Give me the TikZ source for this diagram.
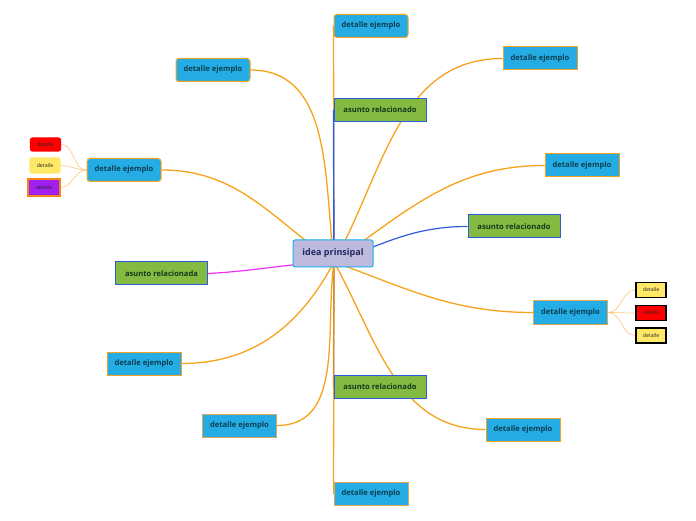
\documentclass[tikz,border=0pt]{standalone}
\usepackage{fontspec}
\setmainfont{Open Sans}
\usetikzlibrary{positioning, calc, backgrounds}
\definecolor{mapcyan}   {RGB}{ 38,172,228}
\definecolor{mapgreen}  {RGB}{132,186, 66}
\definecolor{maplila}   {RGB}{190,186,222}
\definecolor{maporange} {RGB}{247,162, 27}
\definecolor{maptan}    {RGB}{222,168, 80}
\definecolor{mapblue}   {RGB}{ 44, 92,226}
\definecolor{mapmag}    {RGB}{238, 50,238}
\definecolor{mapbrown}  {RGB}{205,140, 62}
\definecolor{mapyellow} {RGB}{255,232,102}
\definecolor{mappurple} {RGB}{160, 32,240}
\definecolor{txtteal}   {RGB}{ 10, 64, 84}
\definecolor{txtgreen}  {RGB}{ 20, 56, 28}
\definecolor{txtnavy}   {RGB}{ 30, 40, 92}

\begin{document}
\begin{tikzpicture}[x=1pt, y=1pt,
  det/.style={rectangle, minimum width=74pt, minimum height=23pt, inner sep=1pt,
    fill=mapcyan, draw=maptan, line width=1pt, text=txtteal,
    font=\fontsize{7.6}{9}\selectfont\bfseries},
  detr/.style={det, rounded corners=3pt, draw=maporange},
  asu/.style={rectangle, minimum width=92pt, minimum height=23pt, inner sep=1pt,
    fill=mapgreen, draw=mapblue, line width=1pt, text=txtgreen,
    font=\fontsize{7.6}{9}\selectfont\bfseries},
  mini/.style={rectangle, minimum width=30pt, minimum height=15pt, inner sep=0.5pt,
    line width=1.2pt, text=black!85, font=\fontsize{5.2}{6}\selectfont},
  lnk/.style={maporange, line width=1.3pt},
  sub/.style={maporange!60, line width=0.6pt},
]
\useasboundingbox (0,0) rectangle (696,520);
%% Hub where branches start
\coordinate (hub) at (334,258);
%% Central idea
\node[rectangle, rounded corners=2pt, minimum width=80pt, minimum height=27pt,
      fill=maplila, draw=mapblue!50!cyan, line width=1pt, text=txtnavy,
      font=\fontsize{9}{10}\selectfont\bfseries] (idea) at (333,266.5) {idea prinsipal};
%% Branch nodes
\node[detr] (D1) at (371,494) {detalle ejemplo};
\node[detr] (D2) at (213,450) {detalle ejemplo};
\node[asu]  (A1) at (380,410) {asunto relacionado};
\node[det, draw=maporange!85!maptan] (D3) at (540,461.5) {detalle ejemplo};
\node[det, draw=maporange] (D4) at (582,354.5) {detalle ejemplo};
\node[asu]  (A2) at (514,293.5) {asunto relacionado};
\node[detr] (D5) at (124,350) {detalle ejemplo};
\node[asu]  (A3) at (161.5,246.5) {asunto relacionada};
\node[det]  (D6) at (570.5,207.5) {detalle ejemplo};
\node[det, draw=maporange] (D7) at (144,156.5) {detalle ejemplo};
\node[asu]  (A4) at (380,133) {asunto relacionado};
\node[det]  (D8) at (239.5,94.5) {detalle ejemplo};
\node[det, draw=maporange] (D9) at (523,90.5) {detalle ejemplo};
\node[det]  (D10) at (371,26) {detalle ejemplo};
%% Small details
\node[mini, fill=red, draw=red, rounded corners=2pt, minimum height=13pt] (S1) at (45.5,375.5) {detalle};
\node[mini, fill=mapyellow, draw=mapyellow, rounded corners=2pt] (S2) at (45,354.5) {detalle};
\node[mini, fill=mappurple, draw=maporange!80!red, minimum width=32pt, minimum height=17pt] (S3) at (44,332.5) {detalle};
\node[mini, fill=mapyellow, draw=black] (S4) at (651,230) {detalle};
\node[mini, fill=red, draw=black] (S5) at (651,207) {detalle};
\node[mini, fill=mapyellow, draw=black] (S6) at (651,184.5) {detalle};
%% Connectors, behind the boxes
\begin{scope}[on background layer]
\draw[lnk] (hub) -- (D1.west);
\draw[mapblue, line width=1.4pt] (hub) -- (A1.west);
\draw[lnk] (hub) to[out=61, in=180] (D3.west);
\draw[lnk] (hub) to[out=97, in=0] (D2.east);
\draw[lnk] (hub) to[out=35, in=180] (D4.west);
\draw[mapblue, line width=1.2pt] (hub) to[out=20, in=180] (A2.west);
\draw[lnk] (hub) to[out=145, in=0] (D5.east);
\draw[mapmag, line width=1.2pt] (hub) to[out=182, in=3] (A3.east);
\draw[lnk] (hub) to[out=-20, in=180] (D6.west);
\draw[lnk] (hub) to[out=-118, in=0] (D7.east);
\draw[lnk] (hub) -- (D10.west);
\draw[mapbrown, line width=1.4pt] (hub) -- (A4.west);
\draw[lnk] (hub) to[out=-98, in=0] (D8.east);
\draw[lnk] (hub) to[out=-61, in=180] (D9.west);
\draw[sub] (D5.west) to[out=180, in=0] (S1.east);
\draw[sub] (D5.west) to[out=180, in=0] (S2.east);
\draw[sub] (D5.west) to[out=180, in=0] (S3.east);
\draw[sub] (D6.east) to[out=0, in=180] (S4.west);
\draw[sub] (D6.east) to[out=0, in=180] (S5.west);
\draw[sub] (D6.east) to[out=0, in=180] (S6.west);
\end{scope}
\end{tikzpicture}
\end{document}
